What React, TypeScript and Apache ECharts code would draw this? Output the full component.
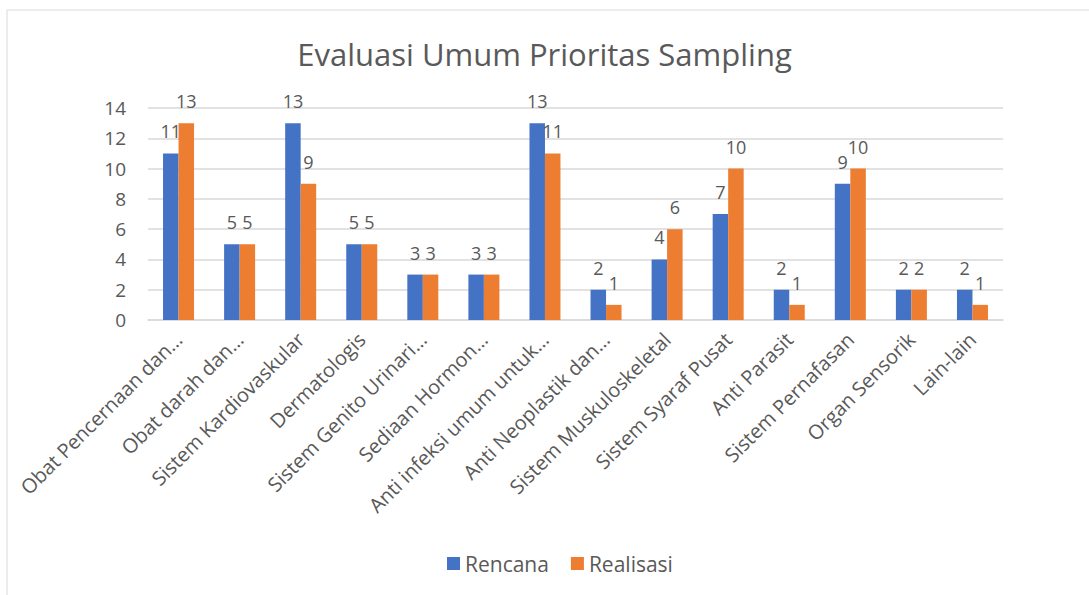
import React, { useEffect, useRef } from "react";
import * as echarts from "echarts";

const categories = [
  "Obat Pencernaan dan…",
  "Obat darah dan…",
  "Sistem Kardiovaskular",
  "Dermatologis",
  "Sistem Genito Urinari…",
  "Sediaan Hormon…",
  "Anti infeksi umum untuk…",
  "Anti Neoplastik dan…",
  "Sistem Muskuloskeletal",
  "Sistem Syaraf Pusat",
  "Anti Parasit",
  "Sistem Pernafasan",
  "Organ Sensorik",
  "Lain-lain",
];
const rencana = [11, 5, 13, 5, 3, 3, 13, 2, 4, 7, 2, 9, 2, 2];
const realisasi = [13, 5, 9, 5, 3, 3, 11, 1, 6, 10, 1, 10, 2, 1];

const FONT = "'Open Sans', 'Noto Sans', sans-serif";
const TXT = "#595959";

export default function App() {
  const ref = useRef<HTMLDivElement>(null);
  useEffect(() => {
    if (!ref.current) return;
    const chart = echarts.init(ref.current, null, { renderer: "svg" });
    const label = {
      show: true,
      position: "top",
      distance: 13,
      color: TXT,
      fontSize: 18,
      fontFamily: FONT,
    };
    chart.setOption({
      animation: false,
      backgroundColor: "#ffffff",
      textStyle: { fontFamily: FONT },
      graphic: [
        {
          type: "rect",
          shape: { x: 7, y: 10, width: 1100, height: 600 },
          style: { fill: "none", stroke: "#d9d9d9", lineWidth: 1 },
          silent: true,
        },
      ],
      title: {
        text: "Evaluasi Umum Prioritas Sampling",
        left: "center",
        top: 33,
        textStyle: { color: TXT, fontSize: 31, fontWeight: "normal", fontFamily: FONT },
      },
      legend: {
        bottom: 16,
        left: 442,
        itemWidth: 13,
        itemHeight: 13,
        itemGap: 22,
        icon: "rect",
        textStyle: { color: TXT, fontSize: 21, fontFamily: FONT },
        data: ["Rencana", "Realisasi"],
      },
      grid: { left: 148, right: 86, top: 108, bottom: 275, containLabel: false },
      xAxis: {
        type: "category",
        data: categories,
        axisLine: { lineStyle: { color: "#d9d9d9", width: 1.5 } },
        axisTick: { show: false },
        axisLabel: {
          interval: 0,
          rotate: 45,
          color: TXT,
          fontSize: 20,
          fontFamily: FONT,
          margin: 16,
        },
      },
      yAxis: {
        type: "value",
        min: 0,
        max: 14,
        interval: 2,
        axisLine: { show: false },
        axisTick: { show: false },
        axisLabel: { color: TXT, fontSize: 19, fontFamily: FONT, margin: 22 },
        splitLine: { lineStyle: { color: "#d9d9d9", width: 1.5 } },
      },
      series: [
        {
          name: "Rencana",
          type: "bar",
          data: rencana,
          barWidth: 15.5,
          barGap: "0%",
          itemStyle: { color: "#4472C4" },
          label,
        },
        {
          name: "Realisasi",
          type: "bar",
          data: realisasi,
          barWidth: 15.5,
          barGap: "0%",
          itemStyle: { color: "#ED7D31" },
          label,
        },
      ],
    });
    return () => chart.dispose();
  }, []);
  return (
    <div
      ref={ref}
      style={{ position: "absolute", left: 0, top: 0, width: 1089, height: 595 }}
    />
  );
}
